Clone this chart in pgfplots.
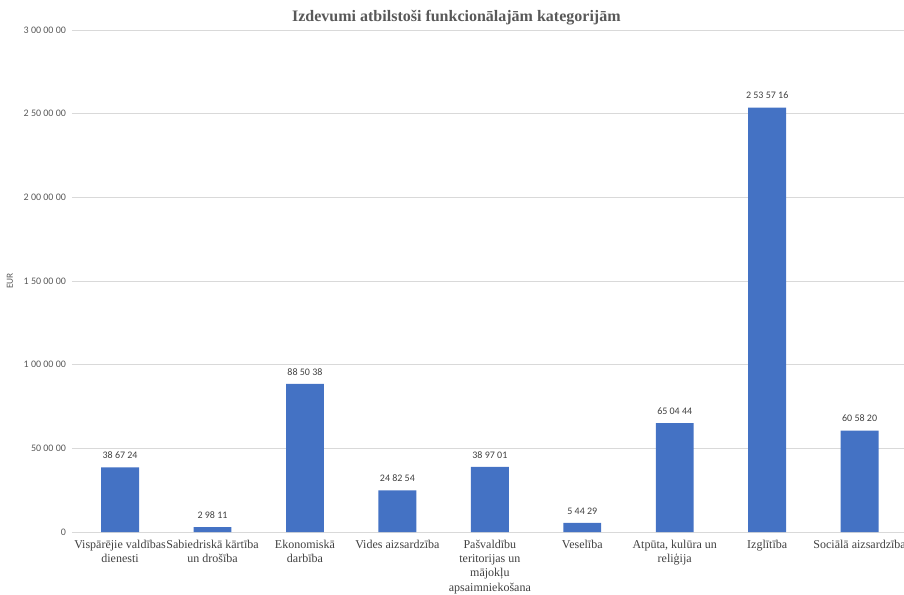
\documentclass[border=0pt]{standalone}
\usepackage{pgfplots}
\pgfplotsset{compat=1.18}
\usepackage{pgfplotstable}
\usepackage{fontspec}
\setmainfont{Liberation Serif}
\newfontfamily\calib{Carlito}
\definecolor{barblue}{HTML}{4472C4}
\definecolor{gridgrey}{HTML}{D9D9D9}
\definecolor{ticktext}{HTML}{595959}
\definecolor{cattext}{HTML}{404040}
\pgfplotstableread[col sep=comma]{
x,y,lab
0,386724,38 67 24
1,29811,2 98 11
2,885038,88 50 38
3,248254,24 82 54
4,389701,38 97 01
5,54429,5 44 29
6,650444,65 04 44
7,2535716,2 53 57 16
8,605820,60 58 20
}\data
\begin{document}
\begin{tikzpicture}
\useasboundingbox (0,0) rectangle (678pt,445.5pt);
\begin{axis}[
  at={(54pt,46.5pt)}, anchor=south west,
  scale only axis,
  width=624pt, height=376.5pt,
  xmin=-0.52, xmax=8.48,
  ymin=0, ymax=3000000,
  axis line style={draw=none},
  axis x line*=bottom,
  ymajorgrids,
  grid style={gridgrey, line width=0.6pt},
  major tick length=0pt,
  ytick={0,500000,1000000,1500000,2000000,2500000,3000000},
  yticklabels={0,50 00 00,1 00 00 00,1 50 00 00,2 00 00 00,2 50 00 00,3 00 00 00},
  scaled y ticks=false,
  yticklabel style={font=\calib\fontsize{7.5}{9}\selectfont, text=ticktext, xshift=-1pt},
  xtick={0,...,8},
  xticklabels={{Vispārējie valdības\\dienesti},{Sabiedriskā kārtība\\un drošība},{Ekonomiskā\\darbība},{Vides aizsardzība},{Pašvaldību\\teritorijas un\\mājokļu\\apsaimniekošana},{Veselība},{Atpūta, kulūra un\\reliģija},{Izglītība},{Sociālā aizsardzība}},
  xticklabel style={font=\fontsize{9}{10.7}\selectfont, text=cattext, align=center, anchor=north, yshift=-2.5pt},
  ylabel={EUR},
  ylabel style={font=\calib\fontsize{7}{8}\selectfont, text=ticktext, at={(axis description cs:-0.0745,0.5)}, anchor=center},
  title={Izdevumi atbilstoši funkcionālajām kategorijām},
  title style={font=\bfseries\fontsize{12}{14}\selectfont, text=ticktext, at={(axis description cs:0.462,1)}, anchor=base, yshift=0.5pt},
  clip=false,
]
\addplot[ybar, bar width=0.41, fill=barblue, draw=none,
  nodes near coords, point meta=explicit symbolic,
  every node near coord/.append style={font=\calib\fontsize{7.5}{9}\selectfont, text=cattext, yshift=3pt}]
  table[x=x, y=y, meta=lab] {\data};
\end{axis}
\end{tikzpicture}
\end{document}
